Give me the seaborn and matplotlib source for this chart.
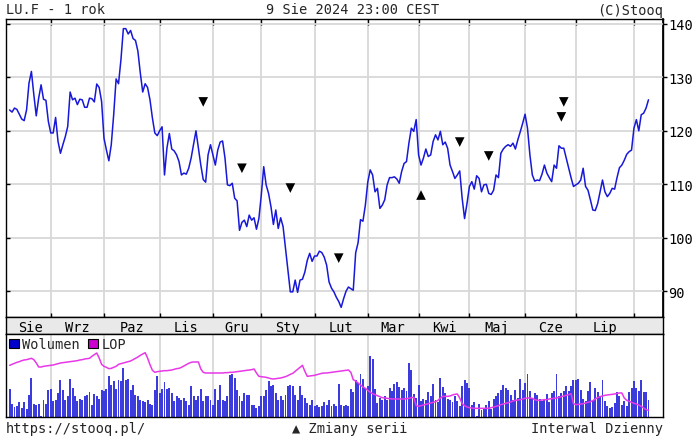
import numpy as np
import pandas as pd
import matplotlib
matplotlib.use("Agg")
import matplotlib.pyplot as plt
from matplotlib.patches import Patch
import seaborn as sns

# ---------------- data ----------------
price = [
    123.9, 123.5, 124.25, 124.0, 123.1, 122.2, 121.9, 123.9, 128.9, 131.1,
    126.75, 122.8, 126.1, 128.6, 125.9, 125.7, 121.75, 119.6, 119.6, 122.5,
    118.0, 115.8, 117.4, 118.9, 120.8, 127.25, 125.8, 126.1, 124.9, 125.9,
    125.8, 124.4, 124.4, 126.1, 126.0, 125.4, 128.75, 128.1, 125.5, 118.6,
    116.4, 114.4, 117.4, 123.0, 129.7, 128.8, 133.3, 139.1, 139.1, 138.1,
    138.75, 137.25, 136.9, 134.9, 130.8, 127.25, 128.8, 128.1, 125.8, 122.4,
    119.6, 119.1, 120.0, 120.75, 111.75, 116.75,
    119.5, 116.6, 116.25, 115.5, 114.25, 111.75, 112.1, 111.9, 113.0, 114.9,
    117.5, 120.0, 116.75, 113.6, 110.9, 110.4, 115.5, 117.4, 115.5, 113.6,
    116.4, 117.9, 118.1, 114.9, 109.9, 109.75, 110.2, 107.4, 106.9, 101.4,
    102.9, 103.3, 102.1, 104.25, 103.3, 103.75, 101.6, 103.6, 108.0, 113.3,
    109.9, 108.3, 105.8, 102.5, 105.2, 101.75, 103.75, 102.1, 98.0, 93.9,
    89.9, 89.9, 92.1, 89.8, 92.1, 92.25, 93.6, 95.8, 97.1, 95.6,
    96.6, 96.6, 97.5, 97.25, 96.4,
    94.9, 91.75, 90.6, 89.9, 88.9, 88.1, 87.0, 88.6, 90.0, 90.8,
    90.5, 90.2, 97.2, 99.1, 103.4, 103.1, 106.1, 110.4, 112.7, 111.75,
    108.6, 109.25, 105.5, 106.1, 107.1, 109.9, 111.25, 111.25, 111.4, 111.0,
    110.2, 112.4, 113.9, 114.25, 117.7, 120.5, 119.9, 122.1, 115.5, 113.6,
    114.9, 116.6, 115.2, 115.5, 118.0, 119.25, 118.3, 119.9, 117.4, 117.9,
    116.75, 113.6, 112.4, 111.1, 111.75, 112.5, 107.4, 103.6, 106.4, 109.6,
    110.5, 109.1, 111.6, 111.1, 108.6, 109.9, 110.0, 108.3,
    108.1, 108.9, 111.75, 111.25, 115.8, 116.6, 117.1, 117.4, 117.1, 117.7,
    116.6, 118.3, 119.8, 121.4, 123.1, 120.5, 115.5, 111.75, 110.6, 110.8,
    110.7, 111.9, 113.6, 112.1, 111.25, 110.5, 113.6, 113.0, 117.2, 116.75,
    116.75, 114.9, 113.0, 111.25, 109.6, 109.9, 110.2, 110.8, 113.0, 109.6,
    108.9, 107.1, 105.2, 105.1, 106.4, 108.6, 110.8, 108.6, 107.7, 108.3,
    109.25, 109.1, 111.25, 113.1, 113.6, 114.5, 115.6, 116.1, 116.4, 120.5,
    122.1, 120.0, 123.0, 123.3, 124.25, 125.8,
]

volume = [
    84, 40, 30, 34, 44, 27, 44, 24, 66, 117,
    40, 36, 40, 4, 52, 40, 80, 84, 47, 52,
    72, 110, 80, 52, 64, 114, 87, 62, 47, 54,
    52, 62, 67, 74, 37, 70, 62, 54, 82, 79,
    84, 122, 97, 107, 84, 110, 107, 147, 112, 114,
    82, 97, 67, 62, 52, 47, 44, 52, 40, 37,
    80, 122, 72, 84, 104, 84, 87, 72, 47, 62,
    57, 52, 57, 47, 37, 94, 62, 52, 62, 84,
    47, 62, 62, 52, 37, 84, 52, 97, 52, 47,
    62, 127, 130, 117, 82, 64, 47, 72, 67, 67,
    37, 37, 27, 34, 64, 62, 82, 107, 92, 97,
    72, 52, 62, 52, 67, 92, 97, 92, 67, 52,
    94, 67, 57, 42, 37, 52, 32, 37, 30, 34,
    44, 37, 50, 32, 40, 34, 100, 37, 32, 37,
    32,
    84, 74, 112, 102, 130, 114, 87, 92, 182, 174,
    84, 42, 57, 52, 62, 52, 87, 77, 100, 104,
    90, 82, 87, 77, 162, 142, 70, 57, 97, 47,
    54, 52, 75, 62, 99, 52, 44, 117, 90, 72,
    54, 50, 44, 62, 47, 32, 92, 112, 102, 87,
    37, 44, 4, 40, 22, 24, 37, 47, 24, 54,
    64, 72, 82, 97, 87, 80, 67, 52, 82, 57,
    114, 82, 102, 130, 77, 57, 72, 67, 54, 47,
    50, 70, 44, 72, 77, 130, 62, 72, 77, 92,
    77, 94, 112, 112, 114, 82, 54, 47, 77, 104,
    52, 87, 74, 62, 112, 47, 32, 27, 30, 42,
    74, 62, 37, 47, 32, 74, 87, 107, 87, 77,
    112, 74, 74, 52,
]

lop = [
    155, 158, 161, 164, 166, 169, 171, 172, 174, 176,
    172, 162, 150, 150, 152, 153, 154, 155, 156, 158,
    160, 162, 163, 164, 165, 166, 167, 168, 169, 171,
    172, 174, 175, 176, 182, 187, 192, 177, 158, 152,
    149, 145, 146, 149, 152, 158, 160, 162, 164, 166,
    168, 172, 176, 180, 185, 189, 193, 177, 157, 140,
    134, 136, 137, 138, 139, 139, 140, 141, 143, 145,
    146, 149, 153, 157, 161, 164, 165, 165, 165, 144,
    134, 132, 132, 132, 132, 132, 132, 132, 132, 133,
    133, 134, 134, 135, 136, 137, 138, 139, 140, 141,
    142, 144, 132, 122, 121, 120, 119, 117, 115, 114,
    115, 116, 117, 119, 121, 124, 128, 131, 137, 143,
    149, 155, 137, 122, 123, 124, 125, 127, 129, 131,
    132, 132, 133, 134, 135, 136, 137, 138, 139, 140,
    141, 134, 112, 108, 102, 96, 90, 86, 80, 74,
    70, 67, 64, 61, 58, 57, 56, 55, 54, 54,
    54, 54, 54, 54, 55, 56, 58, 59, 34, 32,
    34, 36, 38, 40, 42, 44, 46, 50, 57, 62,
    62, 62, 63, 66, 68, 69, 57, 40, 34, 30,
    28, 27, 26, 26, 26, 26, 26, 26, 26, 28,
    30, 32, 34, 37, 39, 41, 43, 45, 48, 50,
    51, 52, 54, 56, 57, 57, 56, 52, 50, 50,
    51, 52, 52, 54, 55, 56, 57, 59, 61, 63,
    65, 67, 70, 40, 37, 38, 39, 40, 42, 44,
    46, 49, 54, 58, 61, 63, 65, 66, 67, 68,
    69, 71, 72, 72, 57, 50, 47, 44, 41, 39,
    36, 32, 27, 22, 20,
]

month_start_idx = [17, 39, 62, 84, 104, 126, 148, 169, 190, 213, 234, 258]
month_labels = ["Sie", "Wrz", "Paz", "Lis", "Gru", "Sty", "Lut",
                "Mar", "Kwi", "Maj", "Cze", "Lip"]
price_ticks = [90, 100, 110, 120, 130, 140]

sig_down_idx = [80, 96, 116, 136, 186, 198, 228, 229]
sig_down_val = [125.4, 113.0, 109.3, 96.2, 117.9, 115.3, 122.6, 125.4]
sig_up_idx = [170]
sig_up_val = [108.0]

# ---------------- figure ----------------
sns.set_theme(style="white")
plt.rcParams['font.family'] = ['DejaVu Sans Mono', 'DejaVu Sans']
FS = 9.8

n = min(len(price), len(volume), len(lop))
df = pd.DataFrame({"idx": np.arange(n), "price": price[:n],
                   "volume": volume[:n], "lop": lop[:n]})

W, H = 698, 439
fig = plt.figure(figsize=(W / 100, H / 100), dpi=100)
fig.patch.set_facecolor("white")


def box(x0, y0, x1, y1):
    return [x0 / W, 1 - y1 / H, (x1 - x0) / W, (y1 - y0) / H]


ax = fig.add_axes(box(6, 20, 663, 318))
band = fig.add_axes(box(6, 318, 663, 335))
vax = fig.add_axes(box(6, 335, 663, 418))

XL = (-1.5, 270)
GRID = "#d8d8d8"

# price panel
sns.lineplot(data=df, x="idx", y="price", ax=ax, color="#1818d8", linewidth=1.1,
             zorder=3)
sns.scatterplot(x=sig_down_idx, y=sig_down_val, marker="v", s=48, color="black",
                edgecolor="none", ax=ax, zorder=4)
sns.scatterplot(x=sig_up_idx, y=sig_up_val, marker="^", s=48, color="black",
                edgecolor="none", ax=ax, zorder=4)
ax.set_xlim(*XL)
ax.set_ylim(85.2, 140.9)
ax.set_xticks(month_start_idx)
ax.set_yticks(price_ticks)
ax.set_xlabel("")
ax.set_ylabel("")
ax.grid(True, color=GRID, linewidth=1.3)
ax.set_axisbelow(True)
ax.tick_params(axis="x", top=True, bottom=False, labelbottom=False, labeltop=False,
               direction="in", length=4, width=1, color="black")
ax.tick_params(axis="y", left=True, right=False, labelleft=False, labelright=False,
               direction="in", length=3, width=1, color="black")
for s in ax.spines.values():
    s.set_color("black")
    s.set_linewidth(1)
sec = ax.secondary_yaxis("right")
sec.set_yticks(price_ticks)
sec.tick_params(direction="out", length=3, width=1, labelsize=FS, pad=1,
                color="black", labelcolor="black")
sec.spines["right"].set_color("black")

# month band
band.set_facecolor("#e9e9e9")
band.set_xlim(*XL)
band.set_ylim(0, 1)
band.set_xticks(month_start_idx)
band.set_yticks([])
band.tick_params(axis="x", top=True, bottom=True, labelbottom=False,
                 direction="out", length=3, width=1, color="black")
for s in band.spines.values():
    s.set_color("black")
    s.set_linewidth(1)
bounds = [0] + month_start_idx
for k, lab in enumerate(month_labels):
    c = (bounds[k] + bounds[k + 1]) / 2
    band.text(c, 0.42, lab, ha="center", va="center", fontsize=FS, color="black")

# volume panel
sns.barplot(data=df, x="idx", y="volume", native_scale=True, ax=vax,
            color="#3c3cdc", saturation=1, width=0.8, errorbar=None,
            linewidth=0, zorder=2)
vax.set_xlim(*XL)
vax.set_ylim(0, 249)
vax.set_xticks(month_start_idx)
vax.set_yticks([])
vax.set_xlabel("")
vax.set_ylabel("")
vax.tick_params(axis="x", length=0, labelbottom=False)
vax.grid(True, axis="x", color=GRID, linewidth=1.3)
vax.set_axisbelow(True)
for s in vax.spines.values():
    s.set_color("black")
    s.set_linewidth(1)

vax2 = vax.twinx()
sns.lineplot(data=df, x="idx", y="lop", ax=vax2, color="#e838e8", linewidth=1.1)
vax2.set_ylim(0, 249)
vax2.set_xlim(*XL)
vax2.set_yticks([])
vax2.set_ylabel("")
for s in vax2.spines.values():
    s.set_visible(False)
vax2.legend(handles=[Patch(facecolor="#0000cc", edgecolor="black", linewidth=0.8,
                           label="Wolumen"),
                     Patch(facecolor="#cc00cc", edgecolor="black", linewidth=0.8,
                           label="LOP")],
            loc="upper left", ncol=2, frameon=False, fontsize=FS,
            handlelength=0.7, handleheight=0.7, handletextpad=0.25,
            columnspacing=0.6, borderaxespad=0.15, borderpad=0.1)

# header / footer texts
ty = 1 - 10.5 / H
fig.text(6 / W, ty, "LU.F - 1 rok", ha="left", va="center", fontsize=FS)
fig.text(353 / W, ty, "9 Sie 2024 23:00 CEST", ha="center", va="center", fontsize=FS)
fig.text(663 / W, ty, "(C)Stooq", ha="right", va="center", fontsize=FS)
fy = 1 - 429 / H
fig.text(6 / W, fy, "https://stooq.pl/", ha="left", va="center", fontsize=FS)
fig.text(350 / W, fy, "▲ Zmiany serii", ha="center", va="center", fontsize=FS)
fig.text(663 / W, fy, "Interwal Dzienny", ha="right", va="center", fontsize=FS)

fig.savefig("out.png", dpi=100, facecolor="white")
